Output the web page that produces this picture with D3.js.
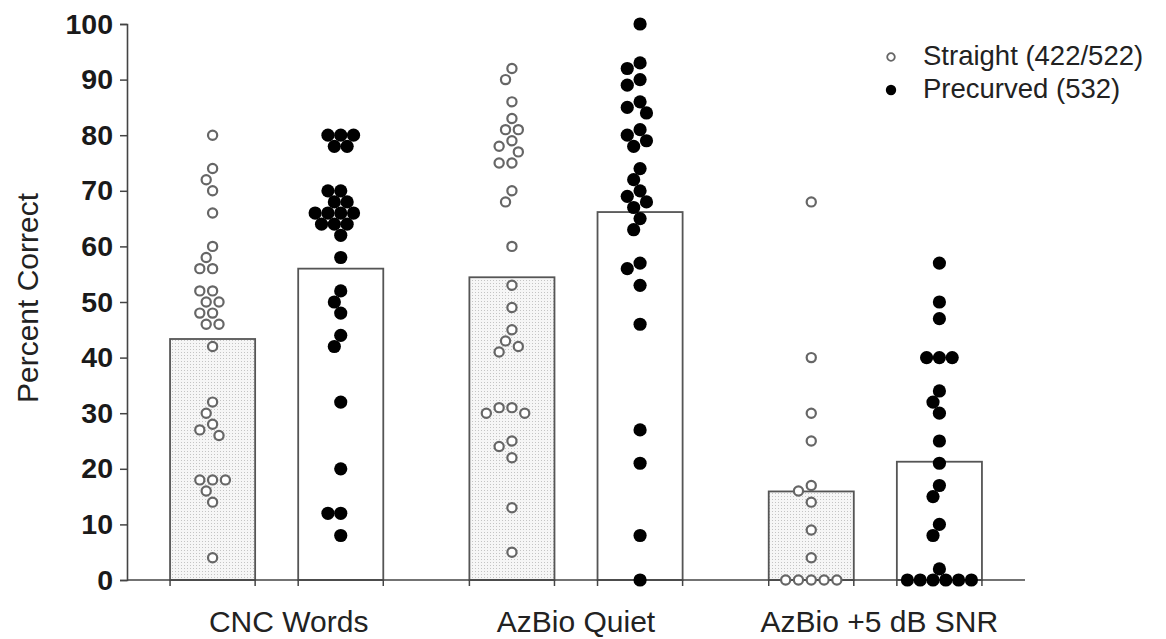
<!DOCTYPE html>
<html>
<head>
<meta charset="utf-8">
<script src="https://cdn.jsdelivr.net/npm/d3@7"></script>
<style>
  body { margin: 0; background: #fff; }
  svg { display: block; font-family: "Liberation Sans", Arial, sans-serif; }
</style>
</head>
<body>
<svg width="1166" height="639"></svg>
<script>
// categories + series
let categories = ["CNC Words", "AzBio Quiet", "AzBio +5 dB SNR"];
let seriesKeys = ["straight", "precurved"];
let seriesLabels = ["Straight (422/522)", "Precurved (532)"];
let yTicks = [0, 10, 20, 30, 40, 50, 60, 70, 80, 90, 100];

// individual scores (percent correct)
let cncStraight = [80, 74, 72, 70, 66, 60, 58, 56, 56, 52, 52, 50, 50, 48, 48, 46, 46, 42, 32, 30, 28, 27, 26, 18, 18, 18, 16, 14, 4];
let cncPrecurved = [80, 80, 80, 78, 78, 70, 70, 68, 68, 66, 66, 66, 66, 64, 64, 64, 62, 58, 52, 50, 48, 44, 42, 32, 20, 12, 12, 8];
let quietStraight = [92, 90, 86, 83, 81, 81, 79, 78, 77, 75, 75, 70, 68, 60, 53, 49, 45, 43, 42, 41, 31, 31, 30, 30, 25, 24, 22, 13, 5];
let quietPrecurved = [100, 93, 92, 90, 89, 86, 85, 84, 81, 80, 79, 78, 74, 72, 70, 69, 68, 67, 65, 63, 57, 56, 53, 46, 27, 21, 8, 0];
let snrStraight = [68, 40, 30, 25, 17, 16, 14, 9, 4, 0, 0, 0, 0, 0];
let snrPrecurved = [57, 50, 47, 40, 40, 40, 34, 32, 30, 25, 21, 17, 15, 10, 8, 2, 0, 0, 0, 0, 0, 0];

let scores = {
    "CNC Words": {straight: cncStraight, precurved: cncPrecurved},
    "AzBio Quiet": {straight: quietStraight, precurved: quietPrecurved},
    "AzBio +5 dB SNR": {straight: snrStraight, precurved: snrPrecurved}
};

let margin = {top: 24, right: 141, bottom: 59, left: 127},
    width = 1166 - margin.left - margin.right,
    height = 639 - margin.top - margin.bottom;

let svg = d3.select("svg");

let defs = svg.append("defs");
let pat = defs.append("pattern")
    .attr("id", "stipple")
    .attr("width", 3).attr("height", 3)
    .attr("patternUnits", "userSpaceOnUse");
pat.append("rect").attr("width", 3).attr("height", 3).attr("fill", "#f6f6f6");
pat.append("rect").attr("x", 1).attr("y", 1).attr("width", 1).attr("height", 1).attr("fill", "#c4c4c4");

let x0 = d3.scaleBand()
    .domain(categories)
    .range([margin.left, margin.left + width]);

let x1 = d3.scaleBand()
    .domain(seriesKeys)
    .range([0, x0.bandwidth()])
    .padding(0.336);

let y = d3.scaleLinear()
    .domain([0, 100])
    .range([margin.top + height, margin.top]);

let rows = [];
categories.forEach(c => {
    seriesKeys.forEach(k => {
        rows.push({cat: c, key: k, values: scores[c][k], mean: d3.mean(scores[c][k])});
    });
});

// bars (group means)
let bars = svg.append("g");
bars.selectAll("rect")
    .data(rows)
    .enter()
    .append("rect")
    .attr("x", d => x0(d.cat) + x1(d.key))
    .attr("y", d => y(d.mean))
    .attr("width", x1.bandwidth())
    .attr("height", d => y(0) - y(d.mean))
    .attr("fill", d => d.key == "straight" ? "url(#stipple)" : "#fff")
    .attr("stroke", "#555")
    .attr("stroke-width", 1.8);

// little ticks under the bar edges
let edgeTicks = [];
rows.forEach(d => {
    edgeTicks.push(x0(d.cat) + x1(d.key));
    edgeTicks.push(x0(d.cat) + x1(d.key) + x1.bandwidth());
});
svg.append("g").selectAll("line")
    .data(edgeTicks)
    .enter()
    .append("line")
    .attr("x1", d => d).attr("x2", d => d)
    .attr("y1", y(0)).attr("y2", y(0) + 6)
    .attr("stroke", "#444")
    .attr("stroke-width", 1.5);

// axes
let yAxis = d3.axisLeft(y).tickValues(yTicks).tickSize(7).tickPadding(7);
let gy = svg.append("g")
    .attr("transform", `translate(${margin.left},0)`)
    .call(yAxis);
gy.select(".domain").attr("stroke", "#444").attr("stroke-width", 1.6);
gy.selectAll(".tick line").attr("stroke", "#444").attr("stroke-width", 1.5);
gy.selectAll(".tick text")
    .attr("font-size", 28.5)
    .attr("font-weight", "bold")
    .attr("fill", "#1a1a1a")
    .attr("font-family", "Liberation Sans, Arial, sans-serif");

svg.append("line")
    .attr("x1", margin.left).attr("x2", margin.left + width)
    .attr("y1", y(0)).attr("y2", y(0))
    .attr("stroke", "#444")
    .attr("stroke-width", 1.6);

let labelShift = {"CNC Words": 12, "AzBio Quiet": 0, "AzBio +5 dB SNR": 4};
svg.append("g").selectAll("text")
    .data(categories)
    .enter()
    .append("text")
    .attr("x", d => x0(d) + x0.bandwidth() / 2 + labelShift[d])
    .attr("y", 632)
    .attr("text-anchor", "middle")
    .attr("font-size", 30)
    .attr("fill", "#222")
    .text(d => d);

svg.append("text")
    .attr("transform", "translate(38,298) rotate(-90)")
    .attr("text-anchor", "middle")
    .attr("font-size", 30)
    .attr("fill", "#222")
    .text("Percent Correct");

// beeswarm-ish dodge so dots don't sit on top of each other
function dodge(values, cx, minDist, step) {
    let placed = [];
    values.forEach(v => {
        let yy = y(v);
        let xx = cx;
        for (let i = 0; i < 40; i++) {
            let k = i == 0 ? 0 : (i % 2 ? -Math.ceil(i / 2) : Math.ceil(i / 2));
            let cand = cx + k * step;
            if (placed.every(p => Math.hypot(p.x - cand, p.y - yy) >= minDist)) { xx = cand; break; }
        }
        placed.push({x: xx, y: yy, v: v});
    });
    return placed;
}

let dots = svg.append("g");
rows.forEach(d => {
    let cx = x0(d.cat) + x1(d.key) + x1.bandwidth() / 2;
    if (d.key == "straight") {
        dots.append("g").selectAll("circle")
            .data(dodge(d.values, cx, 11.5, 6.4))
            .enter()
            .append("circle")
            .attr("cx", p => p.x)
            .attr("cy", p => p.y)
            .attr("r", 4.6)
            .attr("fill", "#fff")
            .attr("stroke", "#666")
            .attr("stroke-width", 2.2);
    } else {
        dots.append("g").selectAll("circle")
            .data(dodge(d.values, cx, 12.6, 6.4))
            .enter()
            .append("circle")
            .attr("cx", p => p.x)
            .attr("cy", p => p.y)
            .attr("r", 6.6)
            .attr("fill", "#000");
    }
});

// legend
let legend = svg.append("g");
let leg = legend.selectAll("g")
    .data(seriesKeys)
    .enter()
    .append("g")
    .attr("transform", (d, i) => `translate(891,${57 + i * 33})`);
leg.append("circle")
    .attr("r", d => d == "straight" ? 3.8 : 5.2)
    .attr("fill", d => d == "straight" ? "#fff" : "#000")
    .attr("stroke", d => d == "straight" ? "#666" : "none")
    .attr("stroke-width", 1.8);
leg.append("text")
    .attr("x", 32)
    .attr("y", 8)
    .attr("font-size", 27.5)
    .attr("fill", "#222")
    .text((d, i) => seriesLabels[i]);
</script>
</body>
</html>
